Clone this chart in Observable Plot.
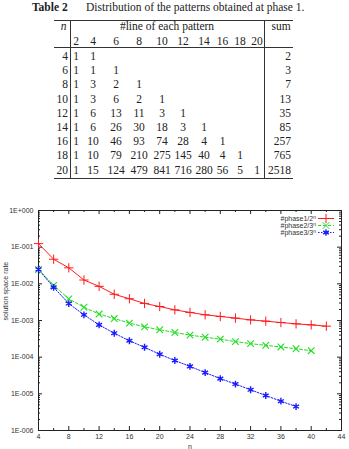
<!DOCTYPE html>
<html>
<head>
<meta charset="utf-8">
<script src="https://cdn.jsdelivr.net/npm/d3@7"></script>
<script src="https://cdn.jsdelivr.net/npm/@observablehq/plot@0.6"></script>
<style>
  html, body { margin: 0; padding: 0; background: #fff; }
  #page { position: relative; width: 349px; height: 449px; overflow: hidden; background: #fff; }
  #table { position: absolute; left: 0; top: 0; width: 349px; height: 195px;
           font-family: "Liberation Serif", "Times New Roman", serif; color: #222; }
  .cell { position: absolute; white-space: nowrap; line-height: 1; }
  .rule { position: absolute; background: #333; }
  #chart { position: absolute; left: 0; top: 195px; }
</style>
</head>
<body>
<div id="page">
  <div id="table"></div>
  <div id="chart"></div>
</div>
<script>
// ---- Table 2: distribution of patterns found at phase 1 ----
const tableTitle = "Table 2";
const tableCaption = "Distribution of the patterns obtained at phase 1.";
const tableN = [4, 6, 8, 10, 12, 14, 16, 18, 20];
const lineCounts = [2, 4, 6, 8, 10, 12, 14, 16, 18, 20];
const patternCounts = [
  [1, 1],
  [1, 1, 1],
  [1, 3, 2, 1],
  [1, 3, 6, 2, 1],
  [1, 6, 13, 11, 3, 1],
  [1, 6, 26, 30, 18, 3, 1],
  [1, 10, 46, 93, 74, 28, 4, 1],
  [1, 10, 79, 210, 275, 145, 40, 4, 1],
  [1, 15, 124, 479, 841, 716, 280, 56, 5, 1]
];
const patternSums = [2, 3, 7, 13, 35, 85, 257, 765, 2518];

// ---- Solution space rate versus n ----
const nPhase1 = [4, 6, 8, 10, 12, 14, 16, 18, 20, 22, 24, 26, 28, 30, 32, 34, 36, 38, 40, 42];
const ratePhase1 = [0.125, 0.0469, 0.0273, 0.0127, 0.00854, 0.00519, 0.00392, 0.00292, 0.0024,
  0.00195, 0.00166, 0.00143, 0.00129, 0.00116, 0.00104, 0.00096, 0.00088, 0.00081, 0.00076, 0.0007];
const nPhase2 = [4, 6, 8, 10, 12, 14, 16, 18, 20, 22, 24, 26, 28, 30, 32, 34, 36, 38, 40];
const ratePhase2 = [0.0247, 0.0091, 0.0039, 0.0023, 0.0015, 0.00113, 0.00085, 0.00067, 0.00056,
  0.00047, 0.0004, 0.00035, 0.00031, 0.000266, 0.000234, 0.00021, 0.00019, 0.00017, 0.00015];
const nPhase3 = [4, 6, 8, 10, 12, 14, 16, 18, 20, 22, 24, 26, 28, 30, 32, 34, 36, 38];
const ratePhase3 = [0.0247, 0.008, 0.0029, 0.00143, 0.00076, 0.00045, 0.00028, 0.000186, 0.00012,
  0.000081, 0.000056, 0.000038, 0.000026, 0.0000185, 0.0000129, 0.000009, 0.0000063, 0.0000045];

const seriesNames = ["#phase1/2", "#phase2/3", "#phase3/3"];
const xTickValues = [4, 8, 12, 16, 20, 24, 28, 32, 36, 40, 44];
const xMinorValues = [6, 10, 14, 18, 22, 26, 30, 34, 38, 42];
const yTickValues = [1, 1e-1, 1e-2, 1e-3, 1e-4, 1e-5, 1e-6];
const yTickLabels = ["1E+000", "1E-001", "1E-002", "1E-003", "1E-004", "1E-005", "1E-006"];
const yMinorMultipliers = [2, 3, 4, 5, 6, 7, 8, 9];
const xLabel = "n";
const yLabel = "solution space rate";

// ---------- table rendering ----------
const tbl = document.getElementById("table");
function cell(text, x, y, align, extra = {}) {
  const s = document.createElement("span");
  s.className = "cell";
  s.textContent = text;
  s.style.left = x + "px";
  s.style.top = y + "px";
  s.style.fontSize = (extra.size || 11.5) + "px";
  if (extra.bold) s.style.fontWeight = "bold";
  if (extra.italic) s.style.fontStyle = "italic";
  const tx = align === "center" ? "-50%" : align === "right" ? "-100%" : "0";
  s.style.transform = `translate(${tx}, -50%)`;
  tbl.appendChild(s);
  return s;
}
function rule(x, y, w, h) {
  const d = document.createElement("div");
  d.className = "rule";
  Object.assign(d.style, {left: x + "px", top: y + "px", width: w + "px", height: h + "px"});
  tbl.appendChild(d);
}

// column layout
const colX = [76, 93, 116, 139, 162, 183, 204, 222.5, 240, 257];
const nRight = 68, sumRight = 291;
const rowY0 = 57, rowStep = 14.2;

cell(tableTitle, 32, 8, "left", {bold: true, size: 11.5});
cell(tableCaption, 86, 8, "left", {size: 11.5});

rule(54, 19.5, 239, 1.2);
rule(54, 47, 239, 0.8);
rule(54, 178.2, 239, 1.2);
rule(70.2, 19.5, 0.8, 159.5);
rule(264.2, 19.5, 0.8, 159.5);

cell("n", 63.5, 26.5, "center", {italic: true});
cell("#line of each pattern", 167, 26.5, "center");
cell("sum", 281, 26.5, "center");
lineCounts.forEach((c, i) => cell(String(c), colX[i], 41.5, "center"));

tableN.forEach((n, r) => {
  const y = rowY0 + r * rowStep;
  cell(String(n), nRight, y, "right");
  patternCounts[r].forEach((v, i) => cell(String(v), colX[i], y, "center"));
  cell(String(patternSums[r]), sumRight, y, "right");
});

// ---------- chart ----------
const toRows = (ns, vals, s) => ns.map((n, i) => ({n, rate: vals[i], series: s}));
const phase1 = toRows(nPhase1, ratePhase1, seriesNames[0]);
const phase2 = toRows(nPhase2, ratePhase2, seriesNames[1]);
const phase3 = toRows(nPhase3, ratePhase3, seriesNames[2]);

const W = 349, H = 254;
const mL = 38, mR = 8, mT = 15, mB = 19;
const innerW = W - mL - mR, innerH = H - mT - mB;

const yMinor = [];
for (const t of yTickValues.slice(1)) for (const k of yMinorMultipliers) if (t * k < 1) yMinor.push(t * k);

const RED = "#ff1a1a", GREEN = "#22dd22", BLUE = "#1a1aff";
const axisColor = "#222";

const chart = Plot.plot({
  width: W, height: H,
  marginLeft: mL, marginRight: mR, marginTop: mT, marginBottom: mB,
  style: {fontFamily: "'Liberation Sans', Arial, sans-serif", fontSize: "7px", color: "#333", background: "transparent", overflow: "visible"},
  x: {domain: [4, 44]},
  y: {type: "log", domain: [1e-6, 1]},
  marks: [
    Plot.frame({stroke: axisColor, strokeWidth: 1}),
    // inward major and minor ticks on all four sides
    Plot.tickX(xTickValues, {x: d => d, insetTop: innerH - 4, stroke: axisColor}),
    Plot.tickX(xTickValues, {x: d => d, insetBottom: innerH - 4, stroke: axisColor}),
    Plot.tickX(xMinorValues, {x: d => d, insetTop: innerH - 2, stroke: axisColor}),
    Plot.tickX(xMinorValues, {x: d => d, insetBottom: innerH - 2, stroke: axisColor}),
    Plot.tickY(yTickValues, {y: d => d, insetRight: innerW - 4, stroke: axisColor}),
    Plot.tickY(yTickValues, {y: d => d, insetLeft: innerW - 4, stroke: axisColor}),
    Plot.tickY(yMinor, {y: d => d, insetRight: innerW - 2, stroke: axisColor}),
    Plot.tickY(yMinor, {y: d => d, insetLeft: innerW - 2, stroke: axisColor}),
    Plot.axisX({ticks: xTickValues, tickSize: 0, tickPadding: 4, tickFormat: d => String(d), label: null}),
    Plot.axisY({ticks: yTickValues, tickSize: 0, tickPadding: 5,
      tickFormat: d => yTickLabels[yTickValues.indexOf(d)], label: null}),
    Plot.text([yLabel], {frameAnchor: "left", rotate: -90, dx: -33, fontSize: 7, fill: "#333"}),
    Plot.text([xLabel], {frameAnchor: "bottom", dy: 18, fontSize: 7, fill: "#333"}),
    // series
    Plot.line(phase1, {x: "n", y: "rate", stroke: RED, strokeWidth: 1}),
    Plot.line(phase2, {x: "n", y: "rate", stroke: GREEN, strokeWidth: 1, strokeDasharray: "3,2"}),
    Plot.line(phase3, {x: "n", y: "rate", stroke: BLUE, strokeWidth: 1, strokeDasharray: "1.5,1.5"}),
    Plot.dot(phase1, {x: "n", y: "rate", symbol: "plus", stroke: RED, r: 3.1, strokeWidth: 1}),
    Plot.dot(phase2, {x: "n", y: "rate", symbol: "times", stroke: GREEN, r: 3.1, strokeWidth: 1.1}),
    Plot.dot(phase3, {x: "n", y: "rate", symbol: "asterisk", stroke: BLUE, r: 3.2, strokeWidth: 1.4})
  ]
});
document.getElementById("chart").appendChild(chart);

// ---------- key (top right, inside the frame) ----------
const svg = d3.select(chart);
const key = svg.append("g").attr("font-family", "'Liberation Sans', Arial, sans-serif").attr("font-size", 7);
const keyStyles = [
  {color: RED, dash: null, symbol: d3.symbolPlus},
  {color: GREEN, dash: "3,2", symbol: d3.symbolTimes},
  {color: BLUE, dash: "1.5,1.5", symbol: d3.symbolAsterisk}
];
seriesNames.forEach((name, i) => {
  const y = 23.5 + i * 7;
  const t = key.append("text").attr("x", 316).attr("y", y).attr("dy", "0.35em")
    .attr("text-anchor", "end").attr("fill", "#333");
  t.append("tspan").text(name);
  t.append("tspan").attr("dy", "-0.4em").attr("font-size", 5).text("n");
  const st = keyStyles[i];
  key.append("line").attr("x1", 318).attr("x2", 334).attr("y1", y).attr("y2", y)
    .attr("stroke", st.color).attr("stroke-width", 1).attr("stroke-dasharray", st.dash);
  key.append("path").attr("transform", `translate(326,${y})`)
    .attr("d", d3.symbol(st.symbol, Math.PI * 3.1 * 3.1)())
    .attr("fill", "none").attr("stroke", st.color).attr("stroke-width", i === 2 ? 1.4 : 1);
});
</script>
</body>
</html>
